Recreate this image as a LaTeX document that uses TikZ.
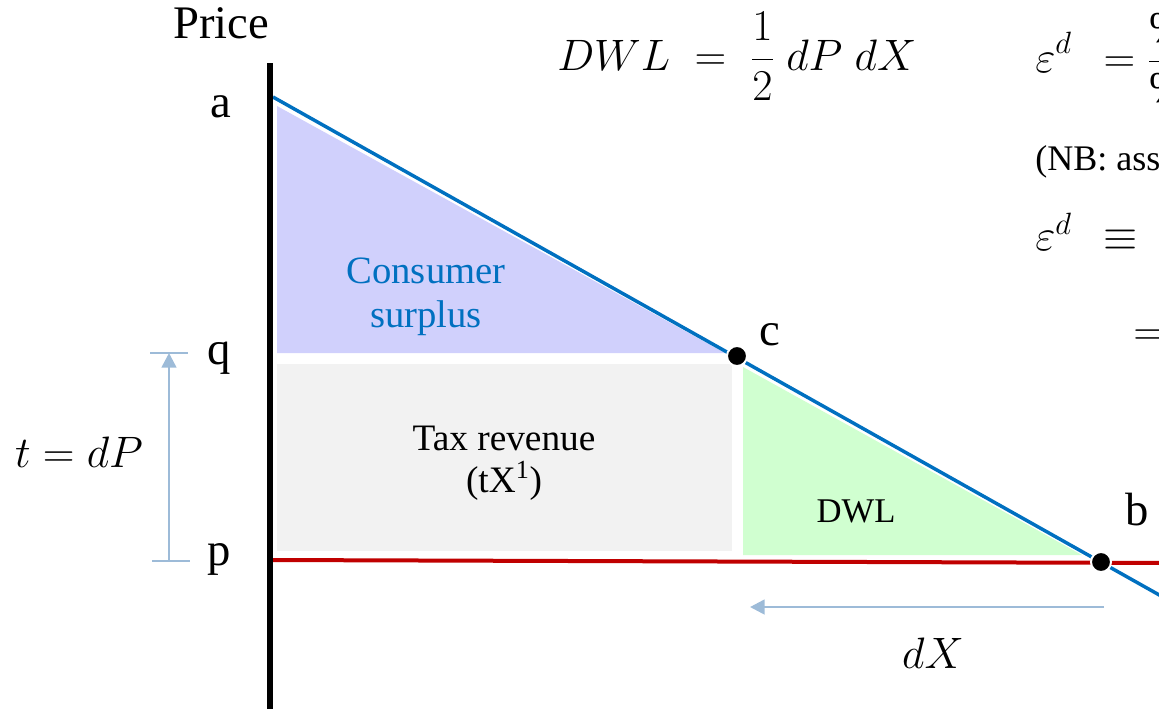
\RequirePackage{fix-cm}
\documentclass[tikz,border=0pt]{standalone}
\usepackage{fontspec}
\setmainfont{Liberation Serif}
\usetikzlibrary{arrows.meta}
\definecolor{demandblue}{RGB}{0,112,192}
\definecolor{taxred}{RGB}{192,0,0}
\definecolor{surplusfill}{RGB}{208,208,252}
\definecolor{revenuefill}{RGB}{242,242,242}
\definecolor{dwlfill}{RGB}{208,255,208}
\definecolor{arrowblue}{RGB}{157,187,216}
\tikzset{
  lbl/.style={anchor=base,inner sep=0pt,font=\fontsize{35}{40}\selectfont},
  mathlbl/.style={anchor=base,inner sep=0pt,font=\fontsize{33}{38}\selectfont},
  arealbl/.style={anchor=base,align=center,inner sep=0pt},
  eqpt/.style={circle,fill=black,draw=white,line width=1.5pt,inner sep=0pt,minimum size=15pt},
  dimarrow/.style={arrowblue,line width=2pt,-{Triangle[length=11pt,width=11pt]}},
  dimtick/.style={arrowblue,line width=1.2pt},
}
\begin{document}
\begin{tikzpicture}[x=0.75pt,y=-0.75pt]
    \clip (0,0) rectangle (1159,708);
    % shaded areas
    \fill[surplusfill] (277,106) -- (277,353) -- (725,353) -- cycle;
    \fill[revenuefill] (277,364) rectangle (732,551);
    \fill[dwlfill] (743,367) -- (743,555) -- (1082,555) -- cycle;
    % curves
    \coordinate (p0) at (273,560);
    \coordinate (pend) at (1170,563);
    \draw[taxred,line width=3pt] (p0) -- (pend);
    \coordinate (a) at (273,97);
    \coordinate (dend) at (1170,601);
    \draw[demandblue,line width=2.6pt] (a) -- (dend);
    \draw[line width=4.5pt] (270,63) -- (270,712);
    \node[eqpt] (c) at (737,356) {};
    \node[eqpt] (b) at (1101,562) {};
    % axis labels
    \node[lbl] (price) at (221,38) {Price};
    \node[lbl] (la) at (221,117) {a};
    \node[lbl] (lq) at (219,364) {q};
    \node[lbl] (lp) at (219,565) {p};
    \node[lbl] (lc) at (770,345) {c};
    \node[lbl] (lb) at (1137,525) {b};
    % area labels
    \node[arealbl,text=demandblue,font=\fontsize{29}{33}\selectfont] (cs) at (426,327) {Consumer\\surplus};
    \node[arealbl,font=\fontsize{28}{31.5}\selectfont] (tr) at (504,492) {Tax revenue\\(tX\textsuperscript{1})};
    \node[arealbl,font=\fontsize{26}{30}\selectfont] (dwl) at (856,522) {DWL};
    % tax wedge and quantity change
    \coordinate (tq) at (169,353);
    \coordinate (tp) at (169,561);
    \draw[dimtick] (150,353) -- (188,353);
    \draw[dimtick] (152,561) -- (190,561);
    \draw[dimarrow] (tp) -- (tq);
    \node[mathlbl] (tlab) at (79,467) {$t = dP$};
    \coordinate (xb) at (1104,607);
    \coordinate (xc) at (750,607);
    \draw[dimarrow] (xb) -- (xc);
    \node[mathlbl] (xlab) at (933,668) {$dX$};
    % formulas
    \node[mathlbl,anchor=base west] (dwlf) at (557,70) {$DWL \;=\; {\displaystyle\frac{1}{2}}\; dP\; dX$};
    \node[mathlbl,anchor=base west] (elas) at (1035,72) {$\displaystyle\varepsilon^d\;\, = \frac{\%}{\%}$};
    \node[anchor=base west,inner sep=0pt,font=\fontsize{27}{32}\selectfont] (nb) at (1035,170) {(NB: ass};
    \node[mathlbl,anchor=base west] (edef) at (1035,250) {$\varepsilon^d\;\, \equiv$};
    \node[mathlbl,anchor=west] (eq2) at (1133,338) {$=$};
\end{tikzpicture}
\end{document}
